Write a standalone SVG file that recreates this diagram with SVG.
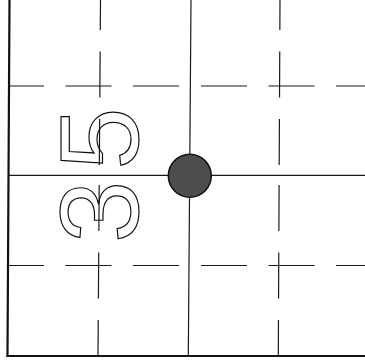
<svg xmlns="http://www.w3.org/2000/svg" width="365" height="363" viewBox="0 0 365 363">
  <style>
    .frame { stroke: #111; stroke-width: 2.2; fill: none; stroke-linecap: square; }
    .solid { stroke: #1a1a1a; stroke-width: 1.2; fill: none; }
    .dash { stroke: #1a1a1a; stroke-width: 1.2; fill: none; stroke-dasharray: 46 21.5; }
    .label { font-family: "Liberation Sans", Arial, sans-serif; font-size: 112px; fill: none; stroke: #111; stroke-width: 1.2; letter-spacing: 11px; }
  </style>
  <rect x="0" y="0" width="365" height="363" fill="#ffffff"/>
  <g id="grid">
    <!-- dashed horizontals -->
    <line class="dash" x1="201" y1="86" x2="365" y2="86"/>
    <line class="dash" x1="179" y1="86" x2="9" y2="86"/>
    <line class="dash" x1="201" y1="265.5" x2="365" y2="265.5"/>
    <line class="dash" x1="179" y1="265.5" x2="9" y2="265.5"/>
    <!-- dashed verticals -->
    <line class="dash" x1="99.34" y1="165" x2="100.5" y2="0"/>
    <line class="dash" x1="99.2" y1="185" x2="98" y2="356"/>
    <line class="dash" x1="279.2" y1="165" x2="280" y2="0"/>
    <line class="dash" x1="279.1" y1="185" x2="278.3" y2="356"/>
    <!-- solid crosshair -->
    <line class="solid" x1="9" y1="175.3" x2="365" y2="175.3"/>
    <line class="solid" x1="191" y1="0" x2="188.3" y2="356"/>
  </g>
  <g id="frame">
    <line class="frame" x1="9.5" y1="0" x2="7.5" y2="356"/>
    <line class="frame" x1="7.5" y1="356" x2="365" y2="356"/>
  </g>
  <g id="dot">
    <circle cx="189.8" cy="175.8" r="21.5" fill="#4d4d4d" stroke="#111" stroke-width="1.5"/>
  </g>
  <g id="label-35">
    <text class="label" transform="translate(138,243) rotate(-90)" x="0" y="0">35</text>
  </g>
</svg>
